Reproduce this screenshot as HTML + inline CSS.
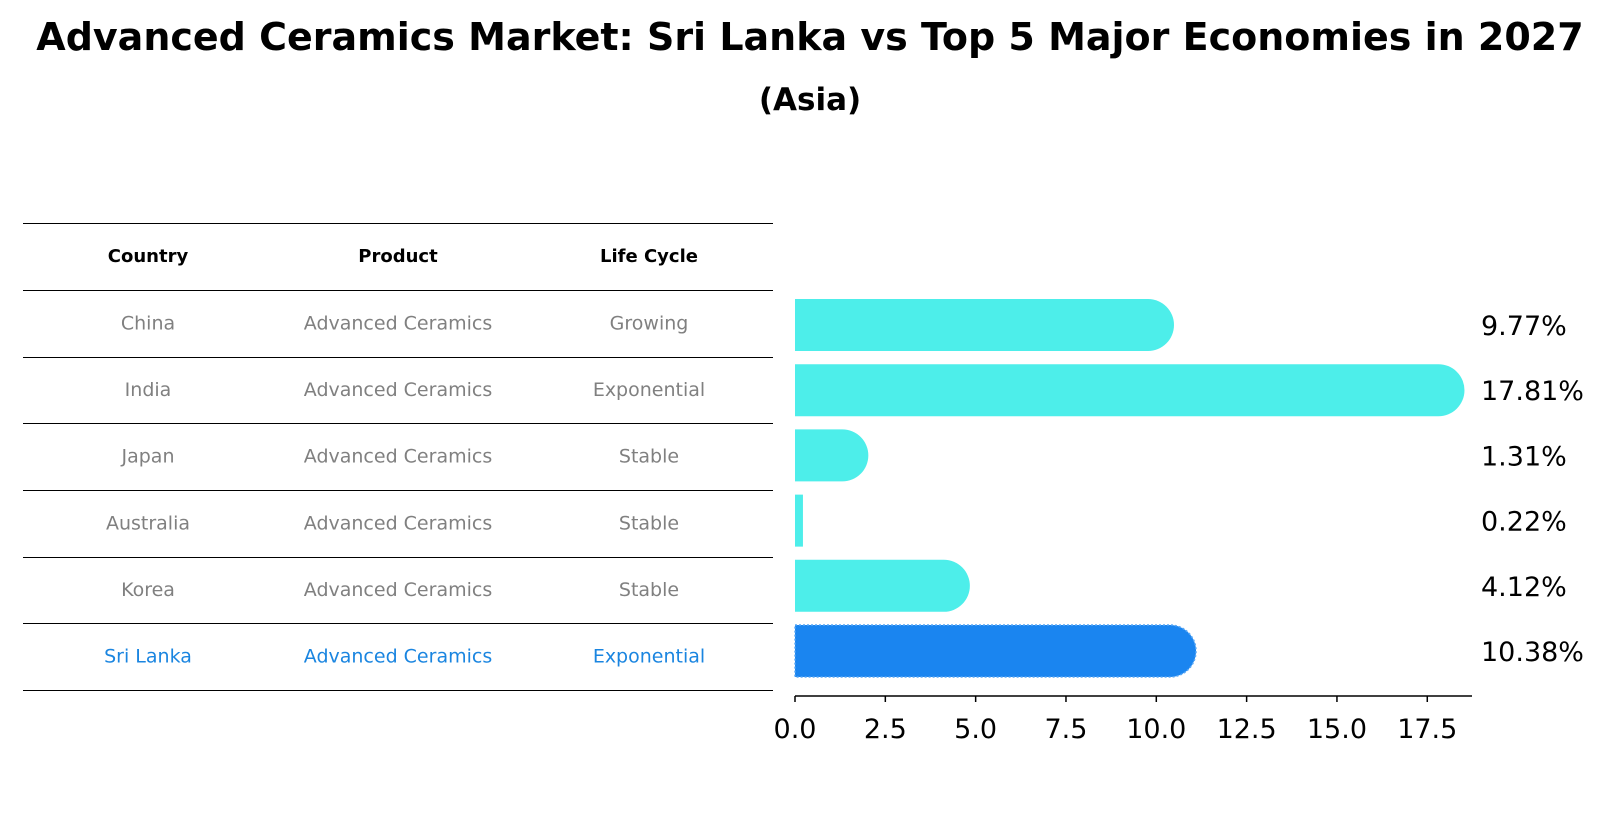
<!DOCTYPE html>
<html><head><meta charset="utf-8"><style>
body{margin:0;background:#fff;font-family:"DejaVu Sans","Liberation Sans",sans-serif;}
svg{display:block}
</style></head><body>
<svg id="c" width="1621" height="823" xmlns="http://www.w3.org/2000/svg">
<text x="810" y="50" text-anchor="middle" font-size="38" font-weight="bold">Advanced Ceramics Market: Sri Lanka vs Top 5 Major Economies in 2027</text>
<text x="810" y="110" text-anchor="middle" font-size="31" font-weight="bold">(Asia)</text>
<g id="table"></g>
<g id="bars"></g>
</svg>
<script>
const countries=["China","India","Japan","Australia","Korea","Sri Lanka"];
const products=["Advanced Ceramics","Advanced Ceramics","Advanced Ceramics","Advanced Ceramics","Advanced Ceramics","Advanced Ceramics"];
const lifeCycles=["Growing","Exponential","Stable","Stable","Stable","Exponential"];
const values=[9.77,17.81,1.31,0.22,4.12,10.38];
const tickValues=[0,2.5,5,7.5,10,12.5,15,17.5];
const tickLabels=["0.0","2.5","5.0","7.5","10.0","12.5","15.0","17.5"];
const NS="http://www.w3.org/2000/svg";
function mk(t,a,p){const e=document.createElementNS(NS,t);for(const k in a)e.setAttribute(k,a[k]);p.appendChild(e);return e;}
const x=v=>795+v*36.13;
const rowY=i=>325+i*65.2;
const H=52,R=26;
const tb=document.getElementById('table');
const lines=[223,290,357,423,490,557,623,690];
lines.forEach((ly,i)=>{const l=mk('line',{x1:23,x2:773,y1:ly+0.5,y2:ly+0.5,stroke:'#000','stroke-width':1,'shape-rendering':'crispEdges'},tb);

});
const cols=[148,398,649];
["Country","Product","Life Cycle"].forEach((h,j)=>{const t=mk('text',{x:cols[j],y:262,'text-anchor':'middle','font-size':18,'font-weight':'bold'},tb);t.textContent=h;

});
countries.forEach((c,i)=>{const cy=(lines[i+1]+lines[i+2])/2+6;const col=i===5?'#1a85e0':'#808080';
[c,products[i],lifeCycles[i]].forEach((s,j)=>{const t=mk('text',{x:cols[j],y:cy,'text-anchor':'middle','font-size':19,fill:col},tb);t.textContent=s;

});});
const bg=document.getElementById('bars');
values.forEach((v,i)=>{const y0=rowY(i)-H/2,xe=x(v);const hl=i===5;const fill=hl?'#1a85f0':'#4deeea';
let d;if(xe-795>20){d=`M795,${y0}H${xe}A${R},${R} 0 0 1 ${xe},${y0+H}H795Z`;}else{d=`M795,${y0}H${xe}V${y0+H}H795Z`;}
const p=mk('path',{d:d,fill:fill},bg);
if(hl){p.setAttribute('stroke','#5aa8f5');p.setAttribute('stroke-width','1.5');p.setAttribute('stroke-dasharray','2,2');}


const t=mk('text',{x:1481,y:rowY(i)+10,'font-size':27},bg);t.textContent=v.toFixed(2)+'%';

});
const ax=mk('line',{x1:795,x2:1472,y1:696,y2:696,stroke:'#000','stroke-width':1.5},bg);


tickValues.forEach((tv,i)=>{const tk=mk('line',{x1:x(tv),x2:x(tv),y1:696,y2:702,stroke:'#000','stroke-width':1.5},bg);


const t=mk('text',{x:x(tv),y:738,'text-anchor':'middle','font-size':27},bg);t.textContent=tickLabels[i];

});
</script>
</body></html>
